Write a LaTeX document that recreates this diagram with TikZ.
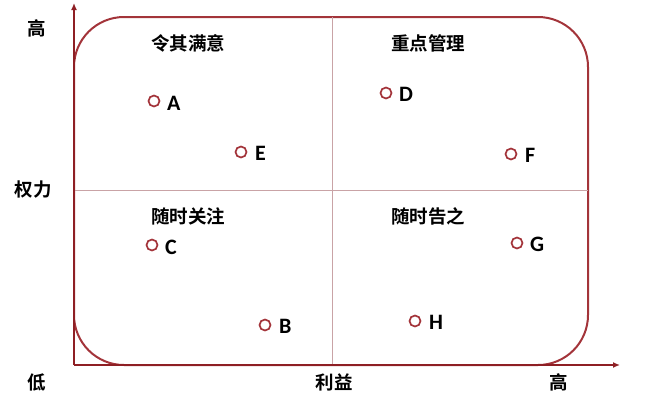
\documentclass[tikz,border=0pt]{standalone}
\usepackage{fontspec}
\setmainfont{Carlito}
\newfontfamily\cjk{Noto Sans CJK SC}[BoldFont=* Bold]
\usetikzlibrary{arrows.meta}
\definecolor{axisred}{HTML}{8E1F24}
\definecolor{boxred}{HTML}{A3343A}
\definecolor{divline}{HTML}{C9A3A6}
\begin{document}
\begin{tikzpicture}[x=1pt,y=-1pt,
  cjklabel/.style={font=\cjk\bfseries\fontsize{18.5}{20}\selectfont, inner sep=0pt},
  ptlabel/.style={font=\bfseries\fontsize{22}{24}\selectfont, inner sep=0pt, anchor=west},
  dot/.style={circle, draw=boxred, line width=1.7pt, minimum size=11pt, inner sep=0pt}]
\useasboundingbox (0,0) rectangle (663,407);
% quadrant frame
\draw[boxred, line width=2pt, rounded corners=50pt] (74,17) rectangle (588,365);
% dividers
\draw[divline, line width=1pt] (332,17) -- (332,365);
\draw[divline, line width=1pt] (74,190.5) -- (588,190.5);
% axes
\coordinate (o) at (74,365);
\coordinate (ytop) at (74,3);
\coordinate (xend) at (620,365);
\draw[axisred, line width=2pt, -{Latex[length=7pt,width=6pt]}] (o) -- (ytop);
\draw[axisred, line width=2pt, -{Latex[length=7pt,width=6pt]}] (o) -- (xend);
% axis labels
\node[cjklabel] (yhigh) at (37,28) {高};
\node[cjklabel] (ylab) at (33,190) {权力};
\node[cjklabel] (low) at (37,382) {低};
\node[cjklabel] (xlab) at (334,382) {利益};
\node[cjklabel] (xhigh) at (559,382) {高};
% quadrant titles
\node[cjklabel] (q1) at (188,43) {令其满意};
\node[cjklabel] (q2) at (428,43) {重点管理};
\node[cjklabel] (q3) at (188,216) {随时关注};
\node[cjklabel] (q4) at (428,216) {随时告之};
% points
\node[dot] (pA) at (154,101) {}; \node[ptlabel] (lA) at (167,103) {A};
\node[dot] (pE) at (241,152) {}; \node[ptlabel] (lE) at (255,153) {E};
\node[dot] (pD) at (386,93)  {}; \node[ptlabel] (lD) at (399,94)  {D};
\node[dot] (pF) at (511,154) {}; \node[ptlabel] (lF) at (525,155) {F};
\node[dot] (pC) at (152,245) {}; \node[ptlabel] (lC) at (165,247) {C};
\node[dot] (pG) at (517,243) {}; \node[ptlabel] (lG) at (530,244) {G};
\node[dot] (pB) at (265,325) {}; \node[ptlabel] (lB) at (279,326) {B};
\node[dot] (pH) at (415,321) {}; \node[ptlabel] (lH) at (429,322) {H};
\end{tikzpicture}
\end{document}
